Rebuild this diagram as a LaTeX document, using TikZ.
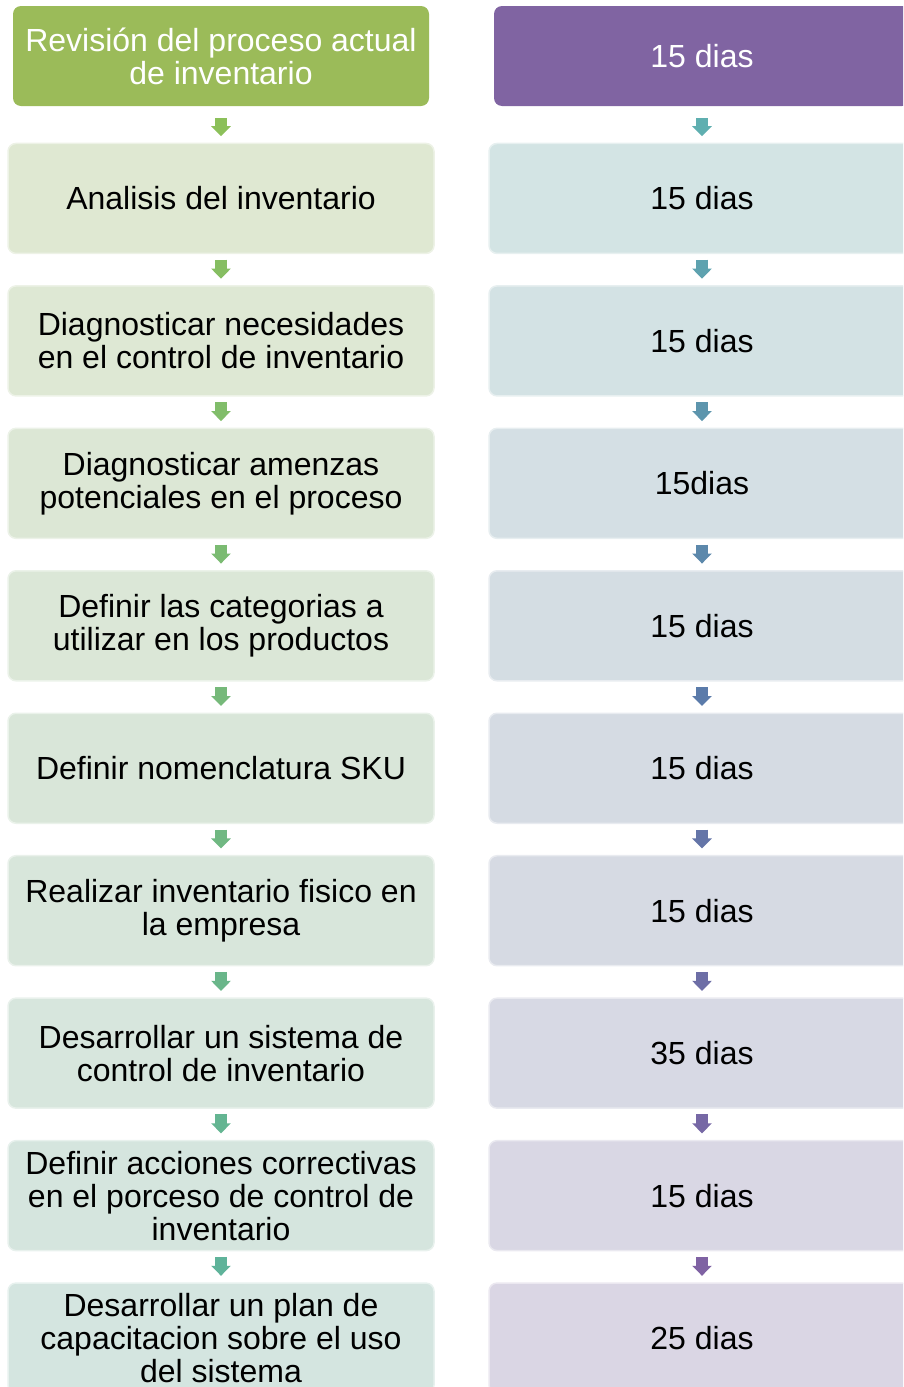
\documentclass[tikz,border=0pt]{standalone}
\usepackage{fontspec}
\setmainfont{Liberation Sans}
\usetikzlibrary{arrows.meta}
\definecolor{LTop}{HTML}{9BBB59}
\definecolor{RTop}{HTML}{8064A2}
\definecolor{LFa}{HTML}{DFE8D2}
\definecolor{LFb}{HTML}{D4E5E0}
\definecolor{RFa}{HTML}{D3E4E4}
\definecolor{RFm}{HTML}{D5DBE3}
\definecolor{RFb}{HTML}{DAD6E4}
\definecolor{LAa}{HTML}{8CC05A}
\definecolor{LAb}{HTML}{5FB39A}
\definecolor{RAa}{HTML}{5FAFB0}
\definecolor{RAm}{HTML}{5B7BAA}
\definecolor{RAb}{HTML}{7F62A3}
\foreach \i in {1,...,9}{%
  \pgfmathtruncatemacro\p{100-(\i-1)*100/8}%
  \xglobal\colorlet{lf\i}{LFa!\p!LFb}%
  \ifnum\i<6
    \pgfmathtruncatemacro\q{100-(\i-1)*25}%
    \xglobal\colorlet{rf\i}{RFa!\q!RFm}%
  \else
    \pgfmathtruncatemacro\q{100-(\i-5)*25}%
    \xglobal\colorlet{rf\i}{RFm!\q!RFb}%
  \fi
}
\begin{document}
\begin{tikzpicture}[x=1pt,y=-1pt,
  box/.style={rounded corners=8pt, minimum width=426pt, minimum height=110pt,
    align=center, inner sep=0pt, line width=1.5pt,
    font=\fontsize{32pt}{33pt}\selectfont},
  lbox/.style={box, fill=#1, draw=#1!55!white},
  topbox/.style={box, fill=#1, minimum width=416pt, minimum height=100pt, text=white},
  arr/.style={line width=12pt, -{Triangle[width=19pt,length=10pt]}}
]
\useasboundingbox (0,0) rectangle (903,1387);
\clip (0,0) rectangle (903,1387);
% left column
\node[topbox=LTop] (L0) at (221,56) {Revisión del proceso actual\\de inventario};
\node[lbox=lf1] (L1) at (221,198.45) {Analisis del inventario};
\node[lbox=lf2] (L2) at (221,340.9) {Diagnosticar necesidades\\en el control de inventario};
\node[lbox=lf3] (L3) at (221,483.35) {Diagnosticar amenzas\\potenciales en el proceso};
\node[lbox=lf4] (L4) at (221,625.8) {Definir las categorias a\\utilizar en los productos};
\node[lbox=lf5] (L5) at (221,768.25) {Definir nomenclatura SKU};
\node[lbox=lf6] (L6) at (221,910.7) {Realizar inventario fisico en\\la empresa};
\node[lbox=lf7] (L7) at (221,1053.15) {Desarrollar un sistema de\\control de inventario};
\node[lbox=lf8] (L8) at (221,1195.6) {Definir acciones correctivas\\en el porceso de control de\\inventario};
\node[lbox=lf9] (L9) at (221,1338.05) {Desarrollar un plan de\\capacitacion sobre el uso\\del sistema};
% right column
\node[topbox=RTop] (R0) at (702,56) {15 dias};
\node[lbox=rf1] (R1) at (702,198.45) {15 dias};
\node[lbox=rf2] (R2) at (702,340.9) {15 dias};
\node[lbox=rf3] (R3) at (702,483.35) {15dias};
\node[lbox=rf4] (R4) at (702,625.8) {15 dias};
\node[lbox=rf5] (R5) at (702,768.25) {15 dias};
\node[lbox=rf6] (R6) at (702,910.7) {15 dias};
\node[lbox=rf7] (R7) at (702,1053.15) {35 dias};
\node[lbox=rf8] (R8) at (702,1195.6) {15 dias};
\node[lbox=rf9] (R9) at (702,1338.05) {25 dias};
% arrows
\foreach \i in {0,...,8}{
  \pgfmathtruncatemacro\j{\i+1}
  \pgfmathsetmacro\s{\i==0 ? 11.5 : 5.5}
  \pgfmathtruncatemacro\p{100-\i*100/8}
  \ifnum\i<5
    \pgfmathtruncatemacro\q{100-\i*25}
    \colorlet{ra}{RAa!\q!RAm}
  \else
    \pgfmathtruncatemacro\q{100-(\i-4)*25}
    \colorlet{ra}{RAm!\q!RAb}
  \fi
  \draw[arr, draw={LAa!\p!LAb}, shorten <=\s pt, shorten >=6.5pt] (L\i.south) -- (L\j.north);
  \draw[arr, draw=ra, shorten <=\s pt, shorten >=6.5pt] (R\i.south) -- (R\j.north);
}
\end{tikzpicture}
\end{document}
